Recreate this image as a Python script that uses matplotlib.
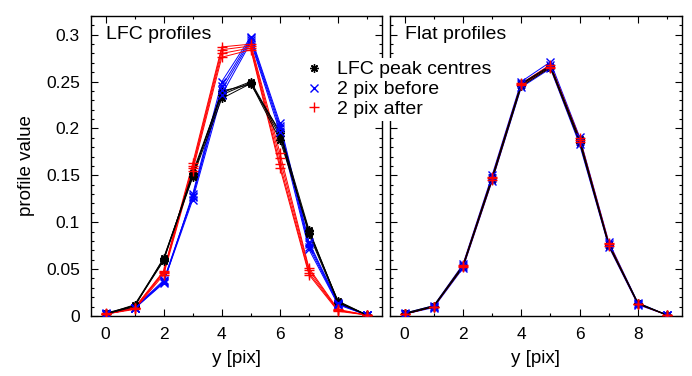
import matplotlib
matplotlib.use("Agg")
import matplotlib.pyplot as plt
from matplotlib.ticker import MultipleLocator
from matplotlib.lines import Line2D

plt.rcParams['font.family'] = ['Liberation Sans', 'DejaVu Sans']
plt.rcParams['font.size'] = 13

y_pix = [0, 1, 2, 3, 4, 5, 6, 7, 8, 9]

# LFC profiles (left panel), a few profiles per series
lfc_centres = [
    [0.002, 0.011, 0.060, 0.148, 0.232, 0.248, 0.188, 0.091, 0.015, 0.001],
    [0.002, 0.012, 0.061, 0.151, 0.236, 0.249, 0.192, 0.089, 0.016, 0.001],
    [0.003, 0.011, 0.059, 0.153, 0.238, 0.250, 0.195, 0.087, 0.014, 0.001],
    [0.002, 0.010, 0.062, 0.149, 0.240, 0.247, 0.197, 0.092, 0.015, 0.001],
]
lfc_before = [
    [0.002, 0.008, 0.036, 0.124, 0.236, 0.292, 0.196, 0.071, 0.012, 0.001],
    [0.002, 0.008, 0.037, 0.127, 0.241, 0.294, 0.200, 0.074, 0.013, 0.001],
    [0.002, 0.009, 0.038, 0.128, 0.245, 0.296, 0.203, 0.077, 0.013, 0.001],
    [0.003, 0.008, 0.035, 0.130, 0.250, 0.298, 0.206, 0.079, 0.014, 0.001],
]
lfc_after = [
    [0.002, 0.007, 0.044, 0.155, 0.276, 0.284, 0.158, 0.044, 0.005, 0.001],
    [0.002, 0.008, 0.046, 0.158, 0.280, 0.286, 0.162, 0.046, 0.006, 0.001],
    [0.002, 0.008, 0.047, 0.160, 0.284, 0.288, 0.168, 0.049, 0.006, 0.001],
    [0.003, 0.009, 0.048, 0.163, 0.287, 0.290, 0.174, 0.051, 0.007, 0.001],
]

# Flat profiles (right panel)
flat_centres = [
    [0.002, 0.010, 0.052, 0.145, 0.245, 0.265, 0.185, 0.075, 0.013, 0.001],
    [0.002, 0.010, 0.053, 0.147, 0.247, 0.266, 0.187, 0.076, 0.013, 0.001],
    [0.003, 0.011, 0.054, 0.148, 0.248, 0.267, 0.189, 0.077, 0.014, 0.001],
]
flat_before = [
    [0.002, 0.009, 0.051, 0.144, 0.244, 0.264, 0.183, 0.074, 0.012, 0.001],
    [0.002, 0.010, 0.053, 0.147, 0.247, 0.268, 0.187, 0.077, 0.013, 0.001],
    [0.003, 0.011, 0.055, 0.150, 0.250, 0.271, 0.191, 0.079, 0.014, 0.001],
]
flat_after = [
    [0.002, 0.010, 0.052, 0.145, 0.246, 0.265, 0.186, 0.075, 0.013, 0.001],
    [0.002, 0.010, 0.053, 0.147, 0.247, 0.266, 0.188, 0.077, 0.013, 0.001],
    [0.002, 0.010, 0.054, 0.148, 0.248, 0.268, 0.190, 0.078, 0.013, 0.001],
]

labels = ["LFC peak centres", "2 pix before", "2 pix after"]
colors = ["black", "blue", "red"]
markers = [(8, 2, 0), "x", "+"]
msizes = [6, 5.5, 6.5]

fig = plt.figure(figsize=(6.92, 3.76), dpi=100)
ax1 = fig.add_axes([0.1315, 0.1596, 0.4200, 0.7979])
ax2 = fig.add_axes([0.5636, 0.1596, 0.4215, 0.7979])


def draw(ax, groups):
    # lines first (black on top), then markers
    for i in [1, 2, 0]:
        for prof in groups[i]:
            ax.plot(y_pix, prof, color=colors[i], lw=0.7, zorder=2 + (i == 0))
    for i in [0, 1, 2]:
        for prof in groups[i]:
            ax.plot(y_pix, prof, ls="none", marker=markers[i], ms=msizes[i],
                    mew=1.0, color=colors[i], zorder=4 + i)


draw(ax1, [lfc_centres, lfc_before, lfc_after])
draw(ax2, [flat_centres, flat_before, flat_after])

for ax in (ax1, ax2):
    ax.set_xlim(-0.5, 9.5)
    ax.set_ylim(0, 0.32)
    ax.xaxis.set_major_locator(MultipleLocator(2))
    ax.xaxis.set_minor_locator(MultipleLocator(1))
    ax.yaxis.set_major_locator(MultipleLocator(0.05))
    ax.yaxis.set_minor_locator(MultipleLocator(0.01))
    ax.tick_params(which="both", direction="in", top=True, right=True, width=0.8)
    ax.tick_params(which="major", length=5, labelsize=12.5)
    ax.tick_params(axis="x", which="major", pad=8)
    ax.tick_params(axis="y", which="major", pad=8)
    ax.tick_params(which="minor", length=2.5)
    for sp in ax.spines.values():
        sp.set_linewidth(1.0)
    ax.set_xlabel("y [pix]", fontsize=13.5, labelpad=6)

ax1.set_yticks([0, 0.05, 0.1, 0.15, 0.2, 0.25, 0.3])
ax1.set_yticklabels(["0", "0.05", "0.1", "0.15", "0.2", "0.25", "0.3"])
ax2.tick_params(labelleft=False)
ax1.set_ylabel("profile value", fontsize=13.5, labelpad=8)

ax1.text(0.05, 0.965, "LFC profiles", transform=ax1.transAxes, ha="left", va="top", fontsize=14)
ax2.text(0.05, 0.965, "Flat profiles", transform=ax2.transAxes, ha="left", va="top", fontsize=14)

handles = [Line2D([], [], ls="none", marker=markers[i], ms=msizes[i], mew=1.0,
                  color=colors[i]) for i in range(3)]
leg = fig.legend(handles, labels, loc="upper left", bbox_to_anchor=(0.418, 0.872),
                 frameon=True, fancybox=False, edgecolor="none", facecolor="white",
                 framealpha=1.0, handlelength=1.2, handletextpad=0.6,
                 labelspacing=0.12, borderpad=0.15, fontsize=14)
leg.set_zorder(20)

fig.savefig("out.png", dpi=100)
